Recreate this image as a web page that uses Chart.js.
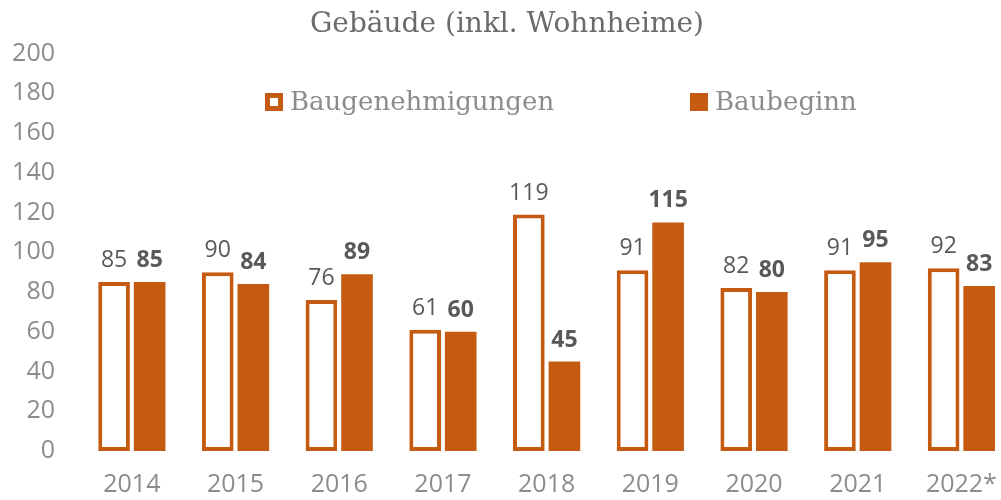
<!DOCTYPE html>
<html>
<head>
<meta charset="utf-8">
<script src="https://cdn.jsdelivr.net/npm/chart.js@4"></script>
<style>
html, body { margin: 0; padding: 0; overflow: hidden; background: #fff; }
#wrap { width: 1016px; height: 500px; position: relative; }
</style>
</head>
<body>
<div id="wrap"><canvas id="myChart"></canvas></div>
<script>
// data
var years = ['2014', '2015', '2016', '2017', '2018', '2019', '2020', '2021', '2022*'];
var baugenehmigungen = [85, 90, 76, 61, 119, 91, 82, 91, 92];
var baubeginn = [85, 84, 89, 60, 45, 115, 80, 95, 83];
var yTicks = [0, 20, 40, 60, 80, 100, 120, 140, 160, 180, 200];

var orange = '#C55A11';
var tickFont = { family: 'Open Sans', size: 25 };

// value labels above the bars
var valueLabels = {
    id: 'valueLabels',
    afterDatasetsDraw: function (chart) {
        var ctx = chart.ctx;
        ctx.save();
        ctx.textAlign = 'center';
        ctx.textBaseline = 'alphabetic';
        ctx.fillStyle = '#595959';
        chart.data.datasets.forEach(function (ds, i) {
            ctx.font = (i === 1 ? 'bold ' : '') + '23px "Open Sans"';
            chart.getDatasetMeta(i).data.forEach(function (bar, j) {
                ctx.fillText(ds.data[j], bar.x, bar.y - 15);
            });
        });
        ctx.restore();
    }
};

// legend drawn inside the plot area
var innerLegend = {
    id: 'innerLegend',
    afterDraw: function (chart) {
        var ctx = chart.ctx;
        var pos = [265, 690];
        ctx.save();
        ctx.font = '26px "DejaVu Serif"';
        ctx.textBaseline = 'middle';
        ctx.textAlign = 'left';
        chart.data.datasets.forEach(function (ds, i) {
            var x = pos[i], y = 102, s = 18;
            ctx.fillStyle = ds.borderColor;
            ctx.fillRect(x, y - s / 2, s, s);
            if (i === 0) {
                ctx.fillStyle = '#fff';
                ctx.fillRect(x + 5, y - s / 2 + 5, s - 10, s - 10);
            }
            ctx.fillStyle = '#8c8c8c';
            ctx.fillText(ds.label, x + s + 7, y + 1);
        });
        ctx.restore();
    }
};

var ctx = document.getElementById('myChart').getContext('2d');
var chart = new Chart(ctx, {
    type: 'bar',
    data: {
        labels: years,
        datasets: [{
            label: 'Baugenehmigungen',
            backgroundColor: '#FFF',
            borderColor: orange,
            borderWidth: 4,
            borderSkipped: false,
            data: baugenehmigungen
        }, {
            label: 'Baubeginn',
            backgroundColor: orange,
            borderColor: orange,
            borderWidth: 0,
            data: baubeginn
        }]
    },
    options: {
        responsive: true,
        maintainAspectRatio: false,
        animation: false,
        categoryPercentage: 0.686,
        barPercentage: 0.89,
        layout: { padding: { left: 0, right: 2, top: 0, bottom: 0 } },
        plugins: {
            legend: { display: false },
            tooltip: { enabled: false },
            title: {
                display: true,
                text: 'Gebäude (inkl. Wohnheime)',
                color: '#6b6b6b',
                font: { family: 'DejaVu Serif', size: 28, weight: 'normal' },
                padding: { top: 8, bottom: 12 }
            }
        },
        scales: {
            x: {
                afterFit: function (scale) { scale.height = 49; },
                grid: { display: false, drawTicks: false },
                border: { display: false },
                ticks: { color: '#8c8c8c', font: tickFont, padding: 19 }
            },
            y: {
                min: 0,
                max: 200,
                afterFit: function (scale) { scale.width = 80; },
                afterBuildTicks: function (scale) {
                    scale.ticks = yTicks.map(function (v) { return { value: v }; });
                },
                grid: { display: false, drawTicks: false },
                border: { display: false },
                ticks: { color: '#8c8c8c', font: tickFont, padding: 25 }
            }
        }
    },
    plugins: [valueLabels, innerLegend]
});
</script>
</body>
</html>
